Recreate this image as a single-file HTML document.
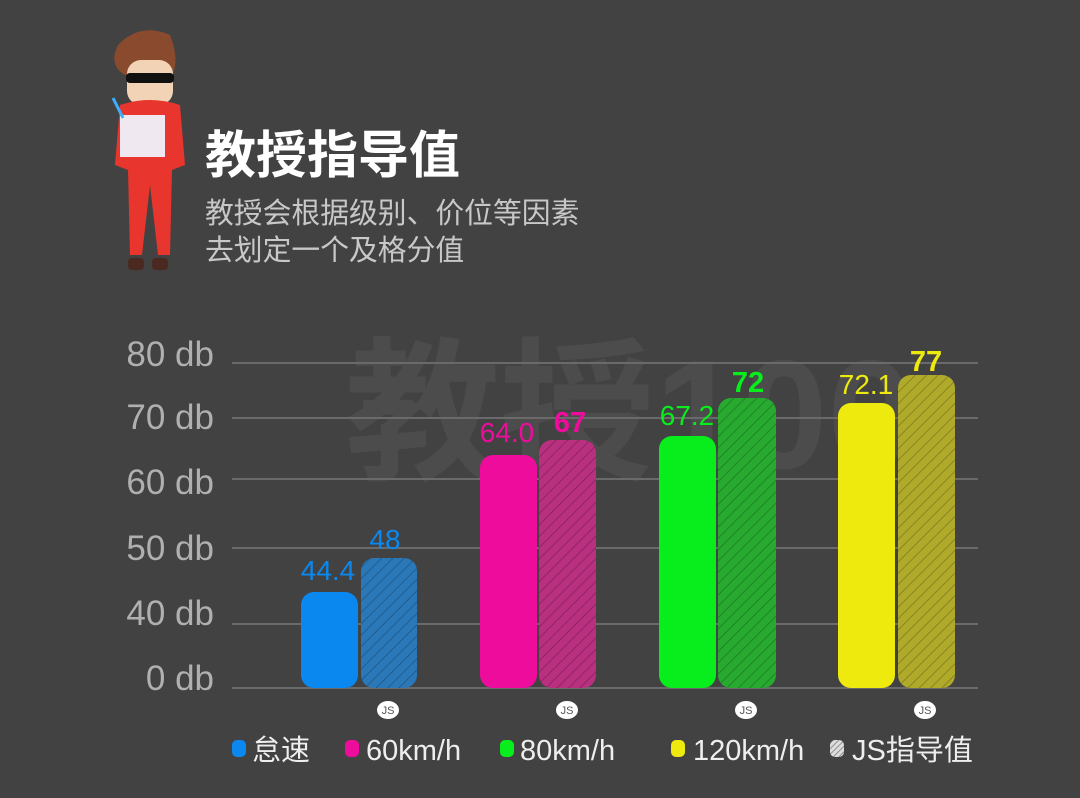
<!DOCTYPE html>
<html><head><meta charset="utf-8"><style>
html,body{margin:0;padding:0;background:#424242;}
svg{display:block;}
text{font-family:"Liberation Sans","Noto Sans CJK SC",sans-serif;}
</style></head><body>
<svg width="1080" height="798" viewBox="0 0 1080 798" xmlns="http://www.w3.org/2000/svg">
<defs>
<pattern id="h" width="8" height="8" patternUnits="userSpaceOnUse" patternTransform="rotate(45)">
<rect width="8" height="8" fill="none"/><line x1="0" y1="0" x2="0" y2="8" stroke="rgba(0,0,0,0.22)" stroke-width="2"/>
</pattern>
<pattern id="hw" width="4" height="4" patternUnits="userSpaceOnUse" patternTransform="rotate(45)">
<rect width="4" height="4" fill="#ddd"/><line x1="0" y1="0" x2="0" y2="4" stroke="#777" stroke-width="1.5"/>
</pattern>
</defs>
<rect width="1080" height="798" fill="#424242"/>
<!-- watermark -->
<text x="345" y="468" font-size="155" font-weight="bold" fill="#4c4c4c">教授100</text>
<!-- character -->
<g>
<path d="M118 45 Q140 22 170 35 Q180 60 172 75 L125 75 Q108 65 118 45Z" fill="#8a4a2e"/>
<rect x="127" y="60" width="46" height="45" rx="14" fill="#f3d3b5"/>
<rect x="126" y="73" width="48" height="10" rx="4" fill="#111"/>
<path d="M120 105 Q150 95 180 105 L185 165 L172 170 L170 255 L158 255 L150 185 L142 255 L130 255 L128 170 L115 165Z" fill="#e8352e"/>
<rect x="120" y="115" width="45" height="42" fill="#f0e8f0"/>
<rect x="128" y="258" width="16" height="12" rx="4" fill="#4a2a20"/>
<rect x="152" y="258" width="16" height="12" rx="4" fill="#4a2a20"/>
<line x1="113" y1="98" x2="123" y2="118" stroke="#3ab0ff" stroke-width="3"/>
</g>
<text x="205" y="173" font-size="51" font-weight="bold" fill="#fff">教授指导值</text>
<text x="205" y="223" font-size="28.8" fill="#c8c8c8">教授会根据级别、价位等因素</text>
<text x="205" y="260" font-size="28.8" fill="#c8c8c8">去划定一个及格分值</text>
<!-- grid -->
<g stroke="#6a6a6a" stroke-width="2">
<line x1="232" y1="363" x2="978" y2="363"/>
<line x1="232" y1="418" x2="978" y2="418"/>
<line x1="232" y1="479" x2="978" y2="479"/>
<line x1="232" y1="548" x2="978" y2="548"/>
<line x1="232" y1="624" x2="978" y2="624"/>
<line x1="232" y1="688" x2="978" y2="688"/>
</g>
<g font-size="35" fill="#b0b0b0" text-anchor="end">
<text x="214" y="366">80 db</text>
<text x="214" y="429">70 db</text>
<text x="214" y="494">60 db</text>
<text x="214" y="560">50 db</text>
<text x="214" y="625">40 db</text>
<text x="214" y="690">0 db</text>
</g>
<!-- bars -->
<rect x="301" y="592" width="57" height="96" rx="13" fill="#0a88f0"/>
<rect x="361" y="558" width="56" height="130" rx="13" fill="#2a78b8"/><rect x="361" y="558" width="56" height="130" rx="13" fill="url(#h)"/>
<rect x="480" y="455" width="57" height="233" rx="13" fill="#ee0c9c"/>
<rect x="539" y="440" width="57" height="248" rx="13" fill="#b8307f"/><rect x="539" y="440" width="57" height="248" rx="13" fill="url(#h)"/>
<rect x="659" y="436" width="57" height="252" rx="13" fill="#07ee1c"/>
<rect x="718" y="398" width="58" height="290" rx="13" fill="#28aa30"/><rect x="718" y="398" width="58" height="290" rx="13" fill="url(#h)"/>
<rect x="838" y="403" width="57" height="285" rx="13" fill="#eeea0e"/>
<rect x="898" y="375" width="57" height="313" rx="13" fill="#b0aa2a"/><rect x="898" y="375" width="57" height="313" rx="13" fill="url(#h)"/>
<!-- value labels -->
<g font-size="28" text-anchor="middle">
<text x="328" y="580" fill="#0a88f0">44.4</text>
<text x="385" y="549" fill="#0a88f0">48</text>
<text x="507" y="442" fill="#ee0c9c">64.0</text>
<text x="570" y="432" fill="#ee0c9c" font-weight="bold" font-size="29">67</text>
<text x="687" y="425" fill="#07ee1c">67.2</text>
<text x="748" y="392" fill="#07ee1c" font-weight="bold" font-size="29">72</text>
<text x="866" y="394" fill="#eeea0e">72.1</text>
<text x="926" y="371" fill="#eeea0e" font-weight="bold" font-size="29">77</text>
</g>
<!-- JS badges -->
<g font-size="11" text-anchor="middle" fill="#555">
<ellipse cx="388" cy="710" rx="11" ry="9" fill="#fff"/><text x="388" y="714">JS</text>
<ellipse cx="567" cy="710" rx="11" ry="9" fill="#fff"/><text x="567" y="714">JS</text>
<ellipse cx="746" cy="710" rx="11" ry="9" fill="#fff"/><text x="746" y="714">JS</text>
<ellipse cx="925" cy="710" rx="11" ry="9" fill="#fff"/><text x="925" y="714">JS</text>
</g>
<!-- legend -->
<rect x="232" y="740" width="14" height="17" rx="5" fill="#0a88f0"/>
<text x="252" y="760" font-size="29" fill="#eee">怠速</text>
<rect x="345" y="740" width="14" height="17" rx="5" fill="#ee0c9c"/>
<text x="366" y="760" font-size="29" fill="#eee">60km/h</text>
<rect x="500" y="740" width="14" height="17" rx="5" fill="#07ee1c"/>
<text x="520" y="760" font-size="29" fill="#eee">80km/h</text>
<rect x="671" y="740" width="14" height="17" rx="5" fill="#eeea0e"/>
<text x="693" y="760" font-size="29" fill="#eee">120km/h</text>
<rect x="830" y="740" width="14" height="17" rx="5" fill="url(#hw)"/>
<text x="852" y="760" font-size="29" fill="#eee">JS指导值</text>
</svg>
</body></html>
